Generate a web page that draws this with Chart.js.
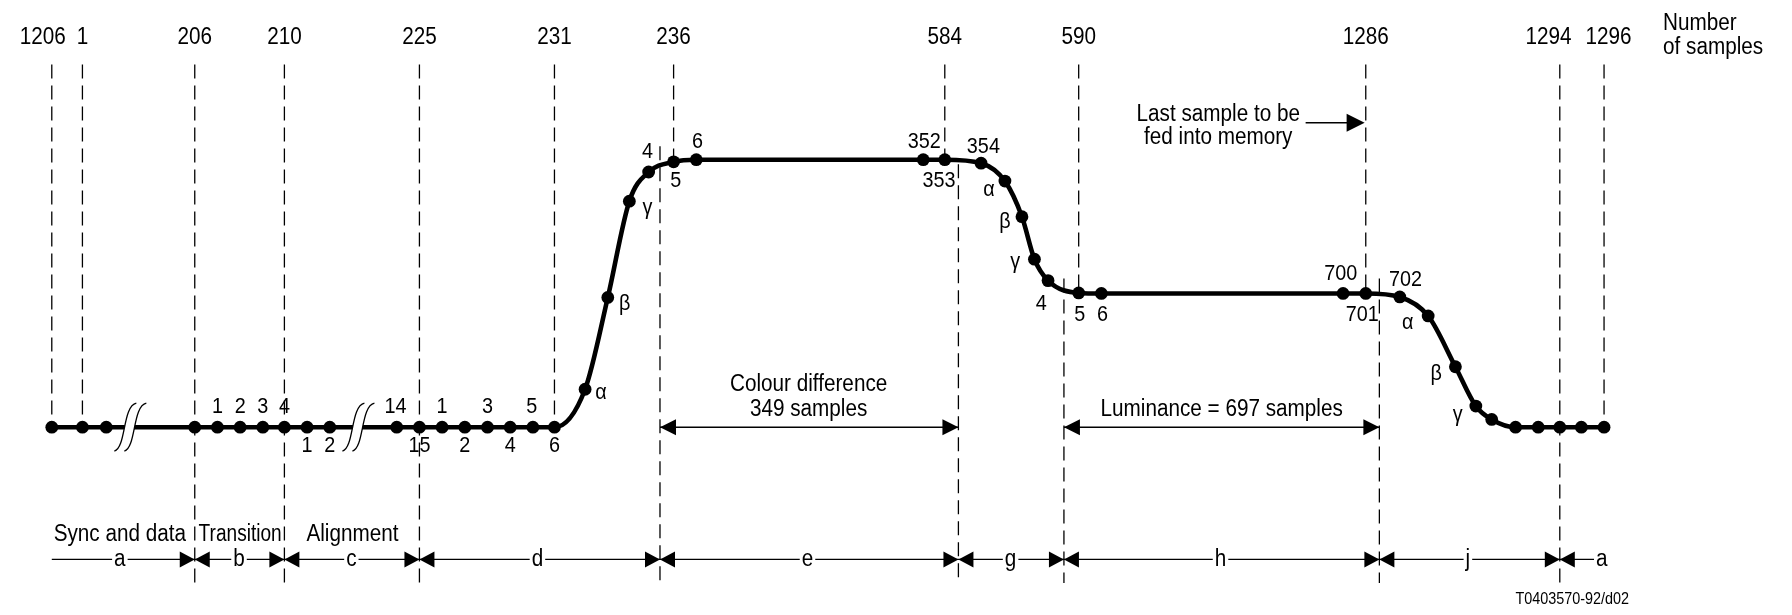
<!DOCTYPE html>
<html>
<head>
<meta charset="utf-8">
<script src="https://cdn.jsdelivr.net/npm/chart.js@4.4.1/dist/chart.umd.min.js"></script>
<style>
  html, body { margin: 0; padding: 0; background: #fff; }
</style>
</head>
<body>
<canvas id="chart" width="1792" height="615"></canvas>
<script>
// x = position along the line (diagram units), y = signal level (0 = blanking, 1 = colour diff, 0.5 = luminance)
const sampleTicks = ["1206", "1", "206", "210", "225", "231", "236", "584", "590", "1286", "1294", "1296"];
const tickPos = [40, 67, 166, 245, 364, 483, 588, 827, 945, 1198, 1369, 1408];
const tickLabelPos = [32, 67, 166, 245, 364, 483, 588, 827, 945, 1198, 1359, 1412];
const tickEnd = [0, 0, -0.582, -0.582, -0.582, 0, 1, 1, 0.5, 0.5, -0.582, 0];

const wavePos = [40, 67, 88, 166, 186, 206, 226, 245, 265, 285, 344, 364, 384, 404, 424, 444, 464, 483,
  510, 530, 549, 566, 588, 608, 808, 827, 859, 880, 895, 906, 918, 945, 965, 1178, 1198,
  1228, 1253, 1277, 1295, 1309, 1330, 1350, 1369, 1388, 1408];
const waveLevel = [0, 0, 0, 0, 0, 0, 0, 0, 0, 0, 0, 0, 0, 0, 0, 0, 0, 0,
  0.142, 0.485, 0.845, 0.954, 0.992, 1, 1, 1, 0.987, 0.92, 0.787, 0.628, 0.548, 0.502, 0.5, 0.5, 0.5,
  0.487, 0.416, 0.226, 0.079, 0.029, 0, 0, 0, 0, 0];
const breakPos = [111, 312];

const pointText = ["1", "2", "3", "4", "1", "2", "14", "15", "1", "2", "3", "4", "5", "6",
  "α", "β", "γ", "4", "5", "6", "352", "353", "354", "α", "β", "γ", "4", "5", "6",
  "700", "701", "702", "α", "β", "γ"];
const pointTextX = [186, 206, 226, 245, 265, 285, 343, 364, 384, 404, 424, 444, 463, 483,
  524, 545, 565, 565, 590, 609, 809, 822, 861, 866, 880, 889, 912, 946, 966,
  1176, 1195, 1233, 1235, 1260, 1279];
const pointTextY = [0.075, 0.075, 0.075, 0.075, -0.071, -0.071, 0.075, -0.071, 0.075, -0.071, 0.075, -0.071, 0.075, -0.071,
  0.13, 0.46, 0.82, 1.029, 0.921, 1.067, 1.067, 0.921, 1.046, 0.887, 0.766, 0.619, 0.46, 0.418, 0.418,
  0.573, 0.418, 0.552, 0.389, 0.201, 0.046];

const boundaries = [166, 245, 364, 576, 839, 932, 1210, 1369];
const lowerLinePos = [576, 839, 932, 1210];
const lowerLineTop = [1.05, 0.983, 0.556, 0.556];
const segLetters = ["a", "b", "c", "d", "e", "g", "h", "j", "a"];
const segLetterPos = [100, 205, 304, 468, 706, 885, 1070, 1288, 1406];
const phaseNames = ["Sync and data", "Transition", "Alignment"];
const phasePos = [100, 206, 305];
const phaseSqueeze = [0.9, 0.83, 0.9];

const spans = [[576, 839], [932, 1210]];
const spanText = [["Colour difference", "349 samples"], ["Luminance = 697 samples"]];
const spanTextX = [707, 1071];

const yTop = 1.356, yRowText = -0.402, yRow = -0.494, yBottom = -0.582;
const FONT = "'Liberation Sans', Arial, sans-serif";
const SQUEEZE = 0.9;

function markerData() {
  const d = [];
  tickPos.forEach((p, i) => {
    d.push({ x: p, y: yTop }, { x: p, y: tickEnd[i] }, { x: p, y: null });
  });
  lowerLinePos.forEach((p, i) => {
    d.push({ x: p, y: lowerLineTop[i] }, { x: p, y: yBottom }, { x: p, y: null });
  });
  return d;
}

function tri(ctx, x, y, dir, len, half) {
  ctx.beginPath();
  ctx.moveTo(x, y);
  ctx.lineTo(x - dir * len, y - half);
  ctx.lineTo(x - dir * len, y + half);
  ctx.closePath();
  ctx.fill();
}

// narrow text, like the condensed face of the original
function txt(ctx, t, x, y, align, sq) {
  ctx.save();
  ctx.translate(x, y);
  ctx.scale(sq || SQUEEZE, 1);
  ctx.textAlign = align || "center";
  ctx.fillText(t, 0, 0);
  ctx.restore();
}

const diagramPlugin = {
  id: "diagram",
  afterDatasetsDraw(chart) {
    const { ctx, scales } = chart;
    const px = (v) => scales.x.getPixelForValue(v);
    const py = (v) => scales.y.getPixelForValue(v);
    ctx.save();

    // line breaks on the blanking level
    breakPos.forEach((b) => {
      const cx = px(b), cy = py(0);
      const curve = (o) => [cx - 13 + o, cy + 24, cx - 1 + o, cy + 20, cx - 5 + o, cy - 21, cx + 9 + o, cy - 24];
      const a = curve(-5), c = curve(5);
      ctx.beginPath();
      ctx.moveTo(a[0], a[1]);
      ctx.bezierCurveTo(a[2], a[3], a[4], a[5], a[6], a[7]);
      ctx.lineTo(c[6], c[7]);
      ctx.bezierCurveTo(c[4], c[5], c[2], c[3], c[0], c[1]);
      ctx.closePath();
      ctx.fillStyle = "#fff";
      ctx.fill();
      ctx.strokeStyle = "#000";
      ctx.lineWidth = 1.3;
      [a, c].forEach((k) => {
        ctx.beginPath();
        ctx.moveTo(k[0], k[1]);
        ctx.bezierCurveTo(k[2], k[3], k[4], k[5], k[6], k[7]);
        ctx.stroke();
      });
    });

    ctx.fillStyle = "#000";
    // segment arrows on the bottom row
    boundaries.forEach((b) => {
      tri(ctx, px(b), py(yRow), 1, 15, 8);
      tri(ctx, px(b), py(yRow), -1, 15, 8);
    });
    spans.forEach(([s, e]) => {
      tri(ctx, px(s), py(0), -1, 16, 8);
      tri(ctx, px(e), py(0), 1, 16, 8);
    });
    tri(ctx, px(1197), py(1.138), 1, 18, 9);

    ctx.textBaseline = "middle";
    ctx.font = "23px " + FONT;
    sampleTicks.forEach((t, i) => txt(ctx, t, px(tickLabelPos[i]), py(1.456)));
    txt(ctx, "Number", px(1460), py(1.51), "left");
    txt(ctx, "of samples", px(1460), py(1.42), "left");

    ctx.font = "22px " + FONT;
    pointText.forEach((t, i) => txt(ctx, t, px(pointTextX[i]), py(pointTextY[i])));

    ctx.font = "23px " + FONT;
    txt(ctx, "Last sample to be", px(1068), py(1.167));
    txt(ctx, "fed into memory", px(1068), py(1.084));
    txt(ctx, spanText[0][0], px(spanTextX[0]), py(0.159));
    txt(ctx, spanText[0][1], px(spanTextX[0]), py(0.067));
    txt(ctx, spanText[1][0], px(spanTextX[1]), py(0.067));
    phaseNames.forEach((t, i) => txt(ctx, t, px(phasePos[i]), py(yRowText), "center", phaseSqueeze[i]));

    segLetters.forEach((t, i) => {
      const w = ctx.measureText(t).width * SQUEEZE;
      const x = px(segLetterPos[i]), y = py(yRow);
      ctx.fillStyle = "#fff";
      ctx.fillRect(x - w / 2 - 2, y - 9, w + 4, 18);
      ctx.fillStyle = "#000";
      txt(ctx, t, x, y);
    });

    ctx.font = "16px " + FONT;
    txt(ctx, "T0403570-92/d02", px(1380), py(-0.644));
    ctx.restore();
  },
};

new Chart(document.getElementById("chart").getContext("2d"), {
  type: "line",
  data: {
    datasets: [
      {
        label: "Signal",
        data: wavePos.map((x, i) => ({ x: x, y: waveLevel[i] })),
        borderColor: "#000",
        backgroundColor: "#000",
        borderWidth: 4.6,
        pointRadius: 6.4,
        pointBackgroundColor: "#000",
        pointBorderWidth: 0,
        cubicInterpolationMode: "monotone",
      },
      {
        label: "Sample markers",
        data: markerData(),
        borderColor: "#000",
        borderWidth: 1.3,
        borderDash: [14, 7],
        pointRadius: 0,
        spanGaps: false,
      },
      {
        label: "Dimensions",
        data: [
          { x: 40, y: yRow }, { x: 1400, y: yRow }, { x: 1400, y: null },
          { x: spans[0][0], y: 0 }, { x: spans[0][1], y: 0 }, { x: 880, y: null },
          { x: spans[1][0], y: 0 }, { x: spans[1][1], y: 0 }, { x: 1210, y: null },
          { x: 1145, y: 1.138 }, { x: 1185, y: 1.138 },
        ],
        borderColor: "#000",
        borderWidth: 1.4,
        pointRadius: 0,
        spanGaps: false,
      },
    ],
  },
  options: {
    responsive: false,
    animation: false,
    layout: { padding: 0 },
    plugins: { legend: { display: false }, tooltip: { enabled: false } },
    scales: {
      x: { type: "linear", display: false, min: 0, max: 1568 },
      y: { type: "linear", display: false, min: -0.678, max: 1.573 },
    },
  },
  plugins: [diagramPlugin],
});
</script>
</body>
</html>
